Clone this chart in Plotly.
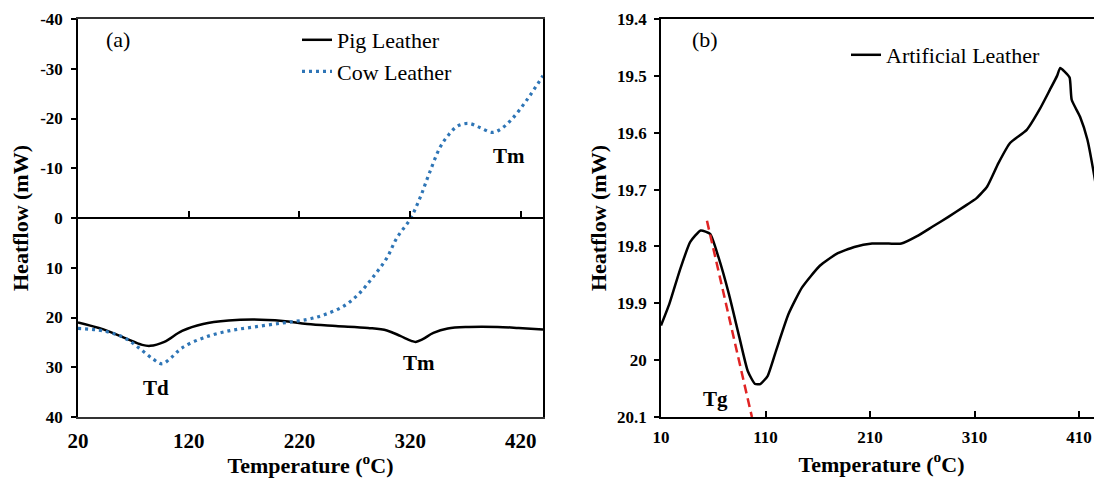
import plotly.graph_objects as go

# ---------------- data ----------------
pig_T = [20, 43, 62, 78, 85, 98, 114, 133, 156, 179, 205, 227, 253, 282, 299, 311, 321, 325, 331, 341, 354, 373, 399, 418, 440]
pig_v = [21.0, 22.4, 24.1, 25.5, 25.7, 24.9, 22.7, 21.3, 20.6, 20.4, 20.7, 21.3, 21.7, 22.1, 22.6, 23.7, 24.7, 24.9, 24.4, 23.1, 22.2, 21.9, 21.9, 22.1, 22.4]

cow_T = [20, 43, 62, 75, 88, 96, 104, 114, 133, 156, 179, 205, 227, 243, 260, 273, 286, 299, 308, 320, 329, 337, 347, 355, 363, 373, 383, 394, 402, 412, 425, 440]
cow_v = [22.2, 22.7, 24.1, 26.1, 28.4, 29.3, 28.1, 26.1, 24.1, 22.7, 21.9, 21.1, 20.4, 19.4, 17.7, 15.4, 12.0, 8.0, 4.0, 0.2, -4.1, -8.8, -14.2, -16.8, -18.5, -19.0, -18.2, -17.2, -17.9, -19.9, -23.6, -28.6]

art_T = [10, 18, 28, 38, 48, 57, 65, 75, 85, 93, 100, 105, 112, 120, 132, 145, 162, 178, 195, 212, 228, 240,
         255, 270, 285, 300, 312, 322, 333, 344, 360, 372, 382, 389, 392, 396, 401, 403, 411, 418, 425, 432]
art_v = [19.939, 19.901, 19.842, 19.792, 19.772, 19.778, 19.819, 19.884, 19.960, 20.019, 20.042, 20.042, 20.028, 19.984, 19.919, 19.872, 19.834, 19.813, 19.801, 19.795, 19.795, 19.795,
         19.782, 19.765, 19.748, 19.730, 19.715, 19.695, 19.653, 19.618, 19.595, 19.560, 19.525, 19.500, 19.486, 19.492, 19.503, 19.542, 19.572, 19.612, 19.680, 19.760]

tg_T = [54, 97]
tg_v = [19.755, 20.10]

left_xticks = [20, 120, 220, 320, 420]
left_yticks = [-40, -30, -20, -10, 0, 10, 20, 30, 40]
left_ytext = ["-40", "-30", "-20", "-10", "0", "10", "20", "30", "40"]
right_xticks = [10, 110, 210, 310, 410]
right_yticks = [19.4, 19.5, 19.6, 19.7, 19.8, 19.9, 20.0, 20.1]
right_ytext = ["19.4", "19.5", "19.6", "19.7", "19.8", "19.9", "20", "20.1"]

# ---------------- layout geometry ----------------
# page body has an 8px margin, so the figure starts at (8, 8) of the window
OFF = 8
W, H = 1102 - OFF, 478 - OFF
def px_x(p): return (p - OFF) / W
def px_y(p): return 1 - (p - OFF) / H

LD = [px_x(78), px_x(543)]
RD = [px_x(661), 1.0]
YD = [px_y(417), px_y(19)]

SERIF = "Liberation Serif, Times New Roman, serif"
def bold(size): return dict(family=SERIF, size=size, color="black", weight="bold")
titlefont = bold(22)

fig = go.Figure()

fig.add_trace(go.Scatter(x=pig_T, y=pig_v, mode="lines", name="Pig Leather",
                         line=dict(color="black", width=2.5, shape="spline", smoothing=1.0),
                         xaxis="x", yaxis="y", legend="legend"))
fig.add_trace(go.Scatter(x=cow_T, y=cow_v, mode="lines", name="Cow Leather",
                         line=dict(color="#2E75B6", width=3.2, dash="3px,4px", shape="spline", smoothing=1.0),
                         xaxis="x3", yaxis="y", legend="legend"))
fig.add_trace(go.Scatter(x=art_T, y=art_v, mode="lines", name="Artificial Leather",
                         line=dict(color="black", width=2.5, shape="spline", smoothing=0.5),
                         xaxis="x2", yaxis="y2", legend="legend2"))
fig.add_trace(go.Scatter(x=tg_T, y=tg_v, mode="lines", name="Tg line", showlegend=False,
                         line=dict(color="#E02424", width=2.5, dash="9px,5px"),
                         xaxis="x2", yaxis="y2"))

axis_common = dict(showgrid=False, zeroline=False, automargin=False)

fig.update_layout(
    width=W, height=H,
    margin=dict(l=0, r=0, t=0, b=0),
    paper_bgcolor="white", plot_bgcolor="white",
    xaxis=dict(domain=LD, range=[20, 440], anchor="y", tickvals=left_xticks,
               showline=True, linecolor="#333333", linewidth=1.5, mirror=True,
               ticks="", ticklabelstandoff=4, tickfont=bold(21),
               title=dict(text="Temperature (<sup>o</sup>C)", font=titlefont, standoff=2),
               **axis_common),
    xaxis3=dict(domain=LD, range=[20, 440], overlaying="x", anchor="free",
                position=(YD[0] + YD[1]) / 2, tickvals=left_xticks,
                showline=True, linecolor="black", linewidth=1.5,
                ticks="inside", ticklen=6, tickwidth=1.5, tickcolor="black",
                showticklabels=False, showgrid=False, zeroline=False),
    yaxis=dict(domain=YD, range=[40, -40], anchor="x", tickvals=left_yticks, ticktext=left_ytext,
               showline=True, linecolor="black", linewidth=1.5, mirror=True,
               ticks="outside", ticklen=5, tickwidth=1.5, tickcolor="black",
               ticklabelstandoff=5, tickfont=bold(17),
               title=dict(text="Heatflow (mW)", font=titlefont, standoff=6),
               **axis_common),
    xaxis2=dict(domain=RD, range=[10, 432], anchor="y2", tickvals=right_xticks,
                showline=True, linecolor="black", linewidth=1.5, mirror=True,
                ticks="inside", ticklen=6, tickwidth=1.5, tickcolor="black",
                ticklabelstandoff=4, tickfont=bold(17),
                title=dict(text="Temperature (<sup>o</sup>C)", font=titlefont, standoff=10),
                **axis_common),
    yaxis2=dict(domain=YD, range=[20.1, 19.4], anchor="x2", tickvals=right_yticks, ticktext=right_ytext,
                showline=True, linecolor="black", linewidth=1.5, mirror=False,
                ticks="outside", ticklen=5, tickwidth=1.5, tickcolor="black",
                ticklabelstandoff=4, tickfont=bold(17),
                title=dict(text="Heatflow (mW)", font=titlefont, standoff=4),
                **axis_common),
    legend=dict(x=px_x(297), y=px_y(19), xanchor="left", yanchor="top",
                bgcolor="rgba(0,0,0,0)", font=dict(family=SERIF, size=22, color="black"),
                itemwidth=30, tracegroupgap=0),
    legend2=dict(x=px_x(846), y=px_y(34), xanchor="left", yanchor="top",
                 bgcolor="rgba(0,0,0,0)", font=dict(family=SERIF, size=22, color="black"),
                 itemwidth=30),
)

ann_font = bold(21)
fig.add_annotation(text="(a)", xref="paper", yref="paper", x=px_x(118), y=px_y(40),
                   xanchor="center", yanchor="middle", showarrow=False,
                   font=dict(family=SERIF, size=22, color="black"))
fig.add_annotation(text="(b)", xref="paper", yref="paper", x=px_x(705), y=px_y(40),
                   xanchor="center", yanchor="middle", showarrow=False,
                   font=dict(family=SERIF, size=22, color="black"))
fig.add_annotation(text="Td", xref="x", yref="y", x=90, y=34.1, showarrow=False, font=ann_font)
fig.add_annotation(text="Tm", xref="x", yref="y", x=328, y=29.1, showarrow=False, font=ann_font)
fig.add_annotation(text="Tm", xref="x", yref="y", x=409, y=-12.5, showarrow=False, font=ann_font)
fig.add_annotation(text="Tg", xref="x2", yref="y2", x=62, y=20.068, showarrow=False, font=ann_font)

fig.write_html("out.html")
